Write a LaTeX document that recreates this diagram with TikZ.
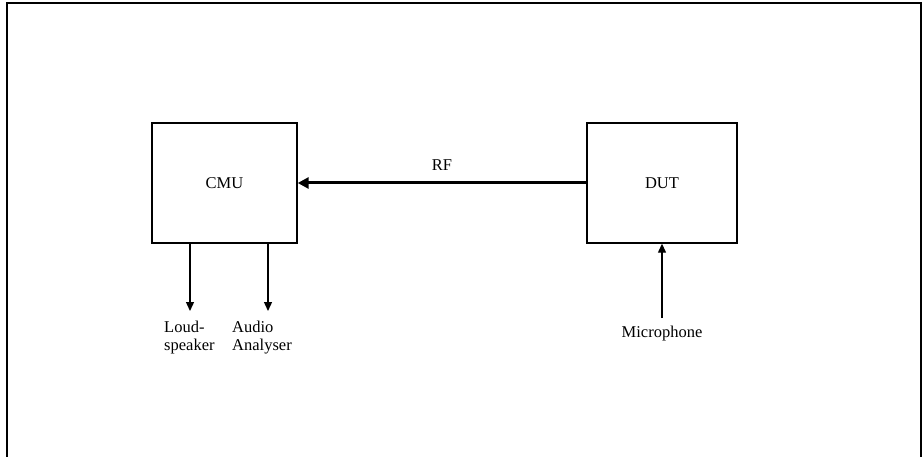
\documentclass[tikz,border=0pt]{standalone}
\usepackage{fontspec}
\setmainfont{Liberation Serif}
\usetikzlibrary{arrows.meta}
\begin{document}
\begin{tikzpicture}[x=1pt,y=-1pt,
  box/.style={draw,line width=1.4pt,minimum width=145pt,minimum height=120pt,inner sep=0pt,font=\fontsize{16.5}{18}\selectfont},
  lbl/.style={inner sep=0pt,font=\fontsize{16.5}{18}\selectfont,align=left},
  thin/.style={line width=1.3pt,-{Triangle[length=9pt,width=8pt]}},
  thick/.style={line width=3pt,-{Triangle[length=11pt,width=11pt]}}]
\useasboundingbox (0,0) rectangle (923,457);
\draw[line width=1.8pt] (7,457) -- (7,3) -- (921,3) -- (921,457);
\node[box] (cmu) at (224.5,183) {CMU};
\node[box,minimum width=150pt] (dut) at (662,183) {DUT};
\draw[thick] (dut.west) -- (cmu.east) node[pos=0.5,above=11pt,lbl] (rf) {RF};
\coordinate (ls) at (190,311);
\coordinate (aa) at (268,311);
\draw[thin] (190,243) -- (ls);
\draw[thin] (268,243) -- (aa);
\node[lbl,anchor=north west] (loud) at (164,321) {Loud-\\speaker};
\node[lbl,anchor=north west] (audio) at (232,321) {Audio\\Analyser};
\node[lbl,anchor=north] (mic) at (662,326) {Microphone};
\coordinate (mictop) at (662,318);
\draw[thin] (mictop) -- (dut.south);
\end{tikzpicture}
\end{document}
